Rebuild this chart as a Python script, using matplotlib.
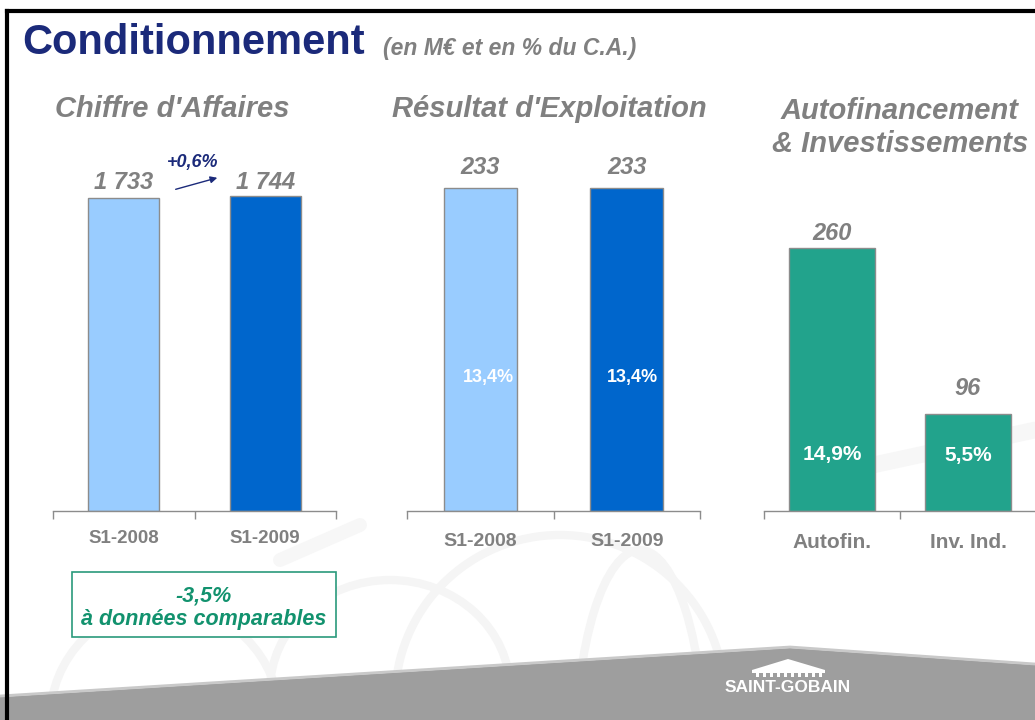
import matplotlib
matplotlib.use('Agg')
import matplotlib.pyplot as plt
from matplotlib.patches import Polygon, Rectangle, Arc
import numpy as np

plt.rcParams['font.family'] = ['Liberation Sans', 'DejaVu Sans']

# data
ca_labels = ['S1-2008', 'S1-2009']
ca_values = [1733, 1744]
ca_growth = '+0,6%'
ca_comparable = '-3,5%'

re_labels = ['S1-2008', 'S1-2009']
re_values = [233, 233]
re_pct = ['13,4%', '13,4%']

af_labels = ['Autofin.', 'Inv. Ind.']
af_values = [260, 96]
af_pct = ['14,9%', '5,5%']

W, H = 1035, 720
GRAY = '#808080'
NAVY = '#1b2a7a'
GREEN = '#12926e'
LIGHT = '#99ccff'
DARK = '#0066cc'
TEAL = '#22a38c'

fig = plt.figure(figsize=(W / 100, H / 100), dpi=100)


def px_axes(x0, y0, x1, y1, **kw):
    # pixel box (top-left origin) -> figure axes
    return fig.add_axes([x0 / W, 1 - y1 / H, (x1 - x0) / W, (y1 - y0) / H], **kw)


# background: faint arcs, gray band, frame, logo
bg = fig.add_axes([0, 0, 1, 1], zorder=-5)
bg.set_xlim(0, W)
bg.set_ylim(H, 0)
bg.axis('off')
for (cx, cy, w, h) in [(165, 720, 230, 230), (390, 690, 240, 220),
                       (560, 700, 330, 330), (640, 760, 130, 420)]:
    bg.add_patch(Arc((cx, cy), w, h, theta1=180, theta2=360, color='#f5f5f5', lw=6))
bg.plot([280, 360], [560, 525], color='#f7f7f7', lw=10, solid_capstyle='round')
bg.plot([850, 1035], [470, 430], color='#f7f7f7', lw=12, solid_capstyle='round')
band = [(0, 697), (790, 648), (1035, 665), (1035, 720), (0, 720)]
bg.add_patch(Polygon(band, closed=True, facecolor='#9e9e9e', edgecolor='none', zorder=2))
bg.plot([0, 790, 1035], [696, 647, 664], color='#c9c9c9', lw=2, zorder=2)
bg.plot([7, 7], [11, 720], color='black', lw=3, zorder=3)
bg.plot([7, 1035], [11, 11], color='black', lw=3, zorder=3)
# logo
bg.text(788, 688, 'SAINT-GOBAIN', color='white', fontsize=12.5, fontweight='bold',
        ha='center', va='center', zorder=4)
bg.add_patch(Polygon([(752, 670), (788, 659), (825, 670), (825, 673), (752, 673)],
                     closed=True, facecolor='white', edgecolor='none', zorder=4))
for xc in np.arange(756, 824, 7):
    bg.add_patch(Rectangle((xc, 670), 3, 7, facecolor='white', edgecolor='none', zorder=4))

# titles
fig.text(22 / W, 1 - 43 / H, 'Conditionnement', color=NAVY, fontsize=30,
         fontweight='bold', ha='left', va='center')
fig.text(383 / W, 1 - 48 / H, '(en M€ et en % du C.A.)', color=GRAY, fontsize=16.5,
         fontweight='bold', style='italic', ha='left', va='center')
hdr = dict(color=GRAY, fontsize=21, fontweight='bold', style='italic', ha='center', va='center')
fig.text(172 / W, 1 - 109 / H, "Chiffre d'Affaires", **hdr)
fig.text(549 / W, 1 - 109 / H, "Résultat d'Exploitation", **hdr)
fig.text(900 / W, 1 - 111 / H, "Autofinancement", **hdr)
fig.text(900 / W, 1 - 144 / H, "& Investissements", **hdr)


def bar_panel(ax, labels, values, colors, width, ymax, val_off, cat_off, cat_size,
              pct=None, pct_off=None, pct_size=12, pct_dx=(0, 0)):
    x = np.arange(len(values))
    ax.bar(x, values, width=width, color=colors, edgecolor='#8c8c8c', linewidth=1)
    ax.set_xlim(-0.5, len(values) - 0.5)
    ax.set_ylim(0, ymax)
    ax.patch.set_alpha(0)
    for s in ['top', 'right', 'left']:
        ax.spines[s].set_visible(False)
    ax.spines['bottom'].set_color('#8c8c8c')
    ax.spines['bottom'].set_linewidth(1)
    ax.set_yticks([])
    ax.set_xticks(np.arange(len(values) + 1) - 0.5)
    ax.set_xticklabels([])
    ax.tick_params(axis='x', length=6, width=1, color='#8c8c8c', direction='out')
    for i, v in enumerate(values):
        ax.annotate(f'{v:,}'.replace(',', ' '), xy=(i, v), xytext=(0, val_off[i]),
                    textcoords='offset points', ha='center', va='center', color=GRAY,
                    fontsize=17, fontweight='bold', style='italic')
        ax.annotate(labels[i], xy=(i, 0), xytext=(0, -cat_off), textcoords='offset points',
                    ha='center', va='center', color=GRAY, fontsize=cat_size,
                    fontweight='bold', annotation_clip=False)
        if pct is not None:
            ax.annotate(pct[i], xy=(i, 0), xytext=(pct_dx[i], pct_off[i]),
                        textcoords='offset points', ha='center', va='center',
                        color='white', fontsize=pct_size, fontweight='bold')


ax1 = px_axes(53, 150, 336, 511)
bar_panel(ax1, ca_labels, ca_values, [LIGHT, DARK], 0.5, 361 * 1733 / 313,
          [11.5, 10], 20, 13.5)
ax1.annotate('', xy=(0.68, 1849), xytext=(0.348, 1777),
             arrowprops=dict(arrowstyle='-|>', color=NAVY, lw=1, mutation_scale=10))
ax1.text(0.489, 1927, ca_growth, color=NAVY, fontsize=13, fontweight='bold',
         style='italic', ha='center', va='center')

ax2 = px_axes(407, 150, 700, 511)
bar_panel(ax2, re_labels, re_values, [LIGHT, DARK], 0.5, 361 * 233 / 323,
          [14.5, 14.5], 22.3, 14, pct=re_pct, pct_off=[95.8, 95.8], pct_size=13,
          pct_dx=(6, 4))

ax3 = px_axes(764, 150, 1036, 511)
bar_panel(ax3, af_labels, af_values, [TEAL, TEAL], 0.63, 361 / 1.012,
          [10.5, 18.5], 23, 15, pct=af_pct, pct_off=[41, 39.6], pct_size=15)

# comparable-basis box
fig.patches.append(Rectangle((72 / W, 1 - 637 / H), 264 / W, 65 / H, transform=fig.transFigure,
                             facecolor='white', edgecolor='#2a9a7c', linewidth=1.2))
fig.text(204 / W, 1 - 596 / H, ca_comparable, color=GREEN, fontsize=15.5, fontweight='bold',
         style='italic', ha='center', va='center')
fig.text(204 / W, 1 - 620 / H, 'à données comparables', color=GREEN, fontsize=15.5,
         fontweight='bold', style='italic', ha='center', va='center')

fig.savefig('out.png', dpi=100, facecolor='white')
